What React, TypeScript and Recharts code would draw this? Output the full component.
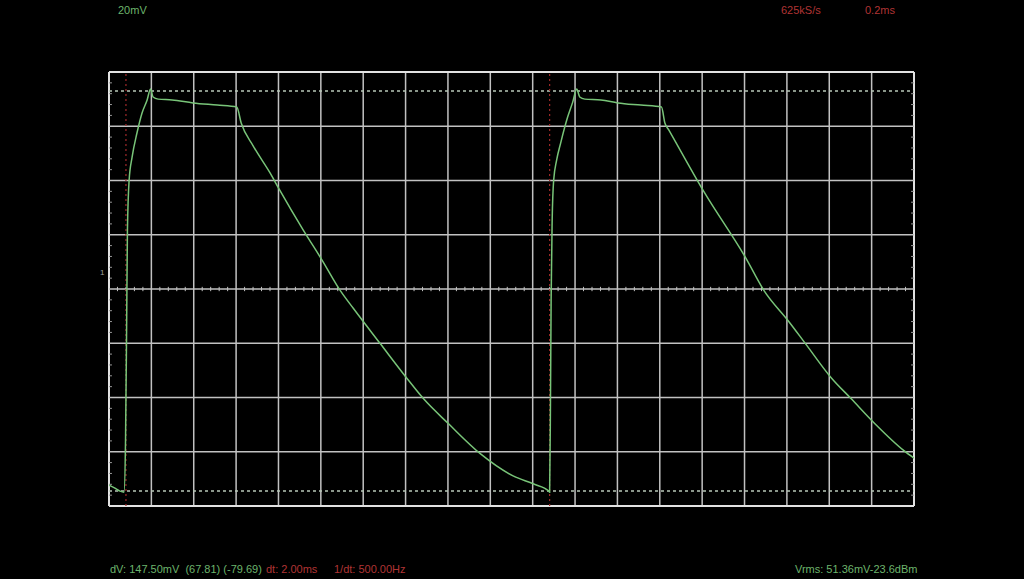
import { LineChart, Line, XAxis, YAxis, ReferenceLine } from 'recharts';

// time in ms, voltage in mV
const timeMs = [
  0.0, 0.028, 0.052, 0.071, 0.078, 0.083, 0.087, 0.095, 0.109, 0.132, 0.156, 0.18, 0.196,
  0.208, 0.232, 0.298, 0.397, 0.511, 0.603, 0.624, 0.681, 0.761, 0.804, 0.917, 1.007, 1.092,
  1.154, 1.281, 1.404, 1.485, 1.603, 1.754, 1.91, 2.005, 2.076,
  2.08, 2.084, 2.087, 2.092, 2.099, 2.113, 2.132, 2.165, 2.189, 2.208, 2.222, 2.246, 2.322,
  2.402, 2.511, 2.608, 2.624, 2.643, 2.809, 3.007, 3.092, 3.206, 3.291, 3.409, 3.504, 3.612,
  3.754, 3.8,
];
const voltsMv = [
  -77.5, -78.6, -79.7, -80.1, -61.2, -20.6, 16.4, 34.9, 43.4, 52.3, 59.7, 64.5, 68.5,
  65.6, 64.8, 64.5, 63.4, 62.6, 61.9, 56.0, 47.5, 37.5, 31.5, 16.5, 5.3, -5.8,
  -12.4, -25.4, -37.9, -45.7, -54.9, -66.0, -74.2, -77.1, -79.7,
  -80.1, -46.4, -9.5, 20.1, 34.9, 42.3, 48.6, 58.2, 63.7, 68.5, 65.6, 64.8, 64.5,
  63.4, 62.6, 61.9, 56.0, 53.4, 30.6, 6.1, -5.8, -16.9, -25.7, -37.9, -45.7, -54.6,
  -64.9, -67.6,
];

const cursorTimes = [0.08, 2.08];
const cursorLevels = [67.81, -79.69];

const X_MIN = 0;
const X_MAX = 3.8;
const Y_MIN = -85.2;
const Y_MAX = 74.8;
const X_DIV = 0.2;
const Y_DIV = 20;

const data = timeMs.map((t, i) => ({ t, v: voltsMv[i] }));

const xGrid = Array.from({ length: 20 }, (_, i) => +(X_MIN + i * X_DIV).toFixed(3));
const yGrid = Array.from({ length: 9 }, (_, i) => +(Y_MIN + i * Y_DIV).toFixed(3));
const yCenter = Y_MIN + 4 * Y_DIV;
const xMinor = Array.from({ length: 95 }, (_, i) => +(i * X_DIV / 5).toFixed(4)).filter((_, i) => i % 5 !== 0);
const yMinor = Array.from({ length: 40 }, (_, i) => +(Y_MIN + i * Y_DIV / 5).toFixed(3)).filter((_, i) => i % 5 !== 0);

const GREEN = '#6cb46c';
const RED = '#b03434';
const GRID = '#c2c2c2';

const font = '"Liberation Sans", Arial, sans-serif';

function Label({ x, y, color, children }: { x: number; y: number; color: string; children: string }) {
  return (
    <div style={{ position: 'absolute', left: x, top: y, color, fontSize: 11, fontFamily: font, whiteSpace: 'pre', lineHeight: '12px' }}>
      {children}
    </div>
  );
}

export default function App() {
  return (
    <div style={{ position: 'fixed', left: 0, top: 0, width: 1024, height: 579, background: '#000', overflow: 'hidden' }}>
      <LineChart width={1024} height={579} data={data} margin={{ top: 72, left: 109, right: 110, bottom: 73 }}>
        <XAxis type="number" dataKey="t" domain={[X_MIN, X_MAX]} hide allowDataOverflow />
        <YAxis type="number" domain={[Y_MIN, Y_MAX]} hide allowDataOverflow />
        {xGrid.map((x) => (
          <ReferenceLine key={`gx${x}`} x={x} stroke={x === X_MIN || x === X_MAX ? '#e2e2e2' : GRID} strokeWidth={x === X_MIN || x === X_MAX ? 2 : 1.5} />
        ))}
        {yGrid.map((y) => (
          <ReferenceLine key={`gy${y}`} y={y} stroke={y === Y_MIN || y === Y_MAX ? '#e2e2e2' : GRID} strokeWidth={y === Y_MIN || y === Y_MAX ? 2 : 1.5} />
        ))}
        {xMinor.map((x) => (
          <ReferenceLine key={`mx${x}`} segment={[{ x, y: yCenter - 0.8 }, { x, y: yCenter + 0.8 }]} stroke={GRID} strokeWidth={1} />
        ))}
        {yMinor.map((y) => (
          <ReferenceLine key={`ml${y}`} segment={[{ x: X_MIN, y }, { x: X_MIN + 0.014, y }]} stroke="#9a9a9a" strokeWidth={1} />
        ))}
        {yMinor.map((y) => (
          <ReferenceLine key={`mr${y}`} segment={[{ x: X_MAX - 0.014, y }, { x: X_MAX, y }]} stroke="#9a9a9a" strokeWidth={1} />
        ))}
        {cursorLevels.map((y) => (
          <ReferenceLine key={`cy${y}`} y={y} stroke="#b8c8b8" strokeWidth={1.5} strokeDasharray="3 3" />
        ))}
        {cursorTimes.map((x) => (
          <ReferenceLine key={`cx${x}`} x={x} stroke="#a02a2a" strokeWidth={1.2} strokeDasharray="2 3" />
        ))}
        <Line type="monotone" dataKey="v" stroke="#78c478" strokeWidth={1.5} dot={false} isAnimationActive={false} />
      </LineChart>
      <Label x={118} y={4} color={GREEN}>20mV</Label>
      <Label x={781} y={4} color={RED}>625kS/s</Label>
      <Label x={865} y={4} color={RED}>0.2ms</Label>
      <div style={{ position: 'absolute', left: 100, top: 268, color: '#a0a0a0', fontSize: 8, fontFamily: font }}>1</div>
      <Label x={110} y={563} color={GREEN}>dV: 147.50mV  (67.81) (-79.69)</Label>
      <Label x={266} y={563} color={RED}>dt: 2.00ms</Label>
      <Label x={334} y={563} color={RED}>1/dt: 500.00Hz</Label>
      <Label x={795} y={563} color={GREEN}>Vrms: 51.36mV-23.6dBm</Label>
    </div>
  );
}
